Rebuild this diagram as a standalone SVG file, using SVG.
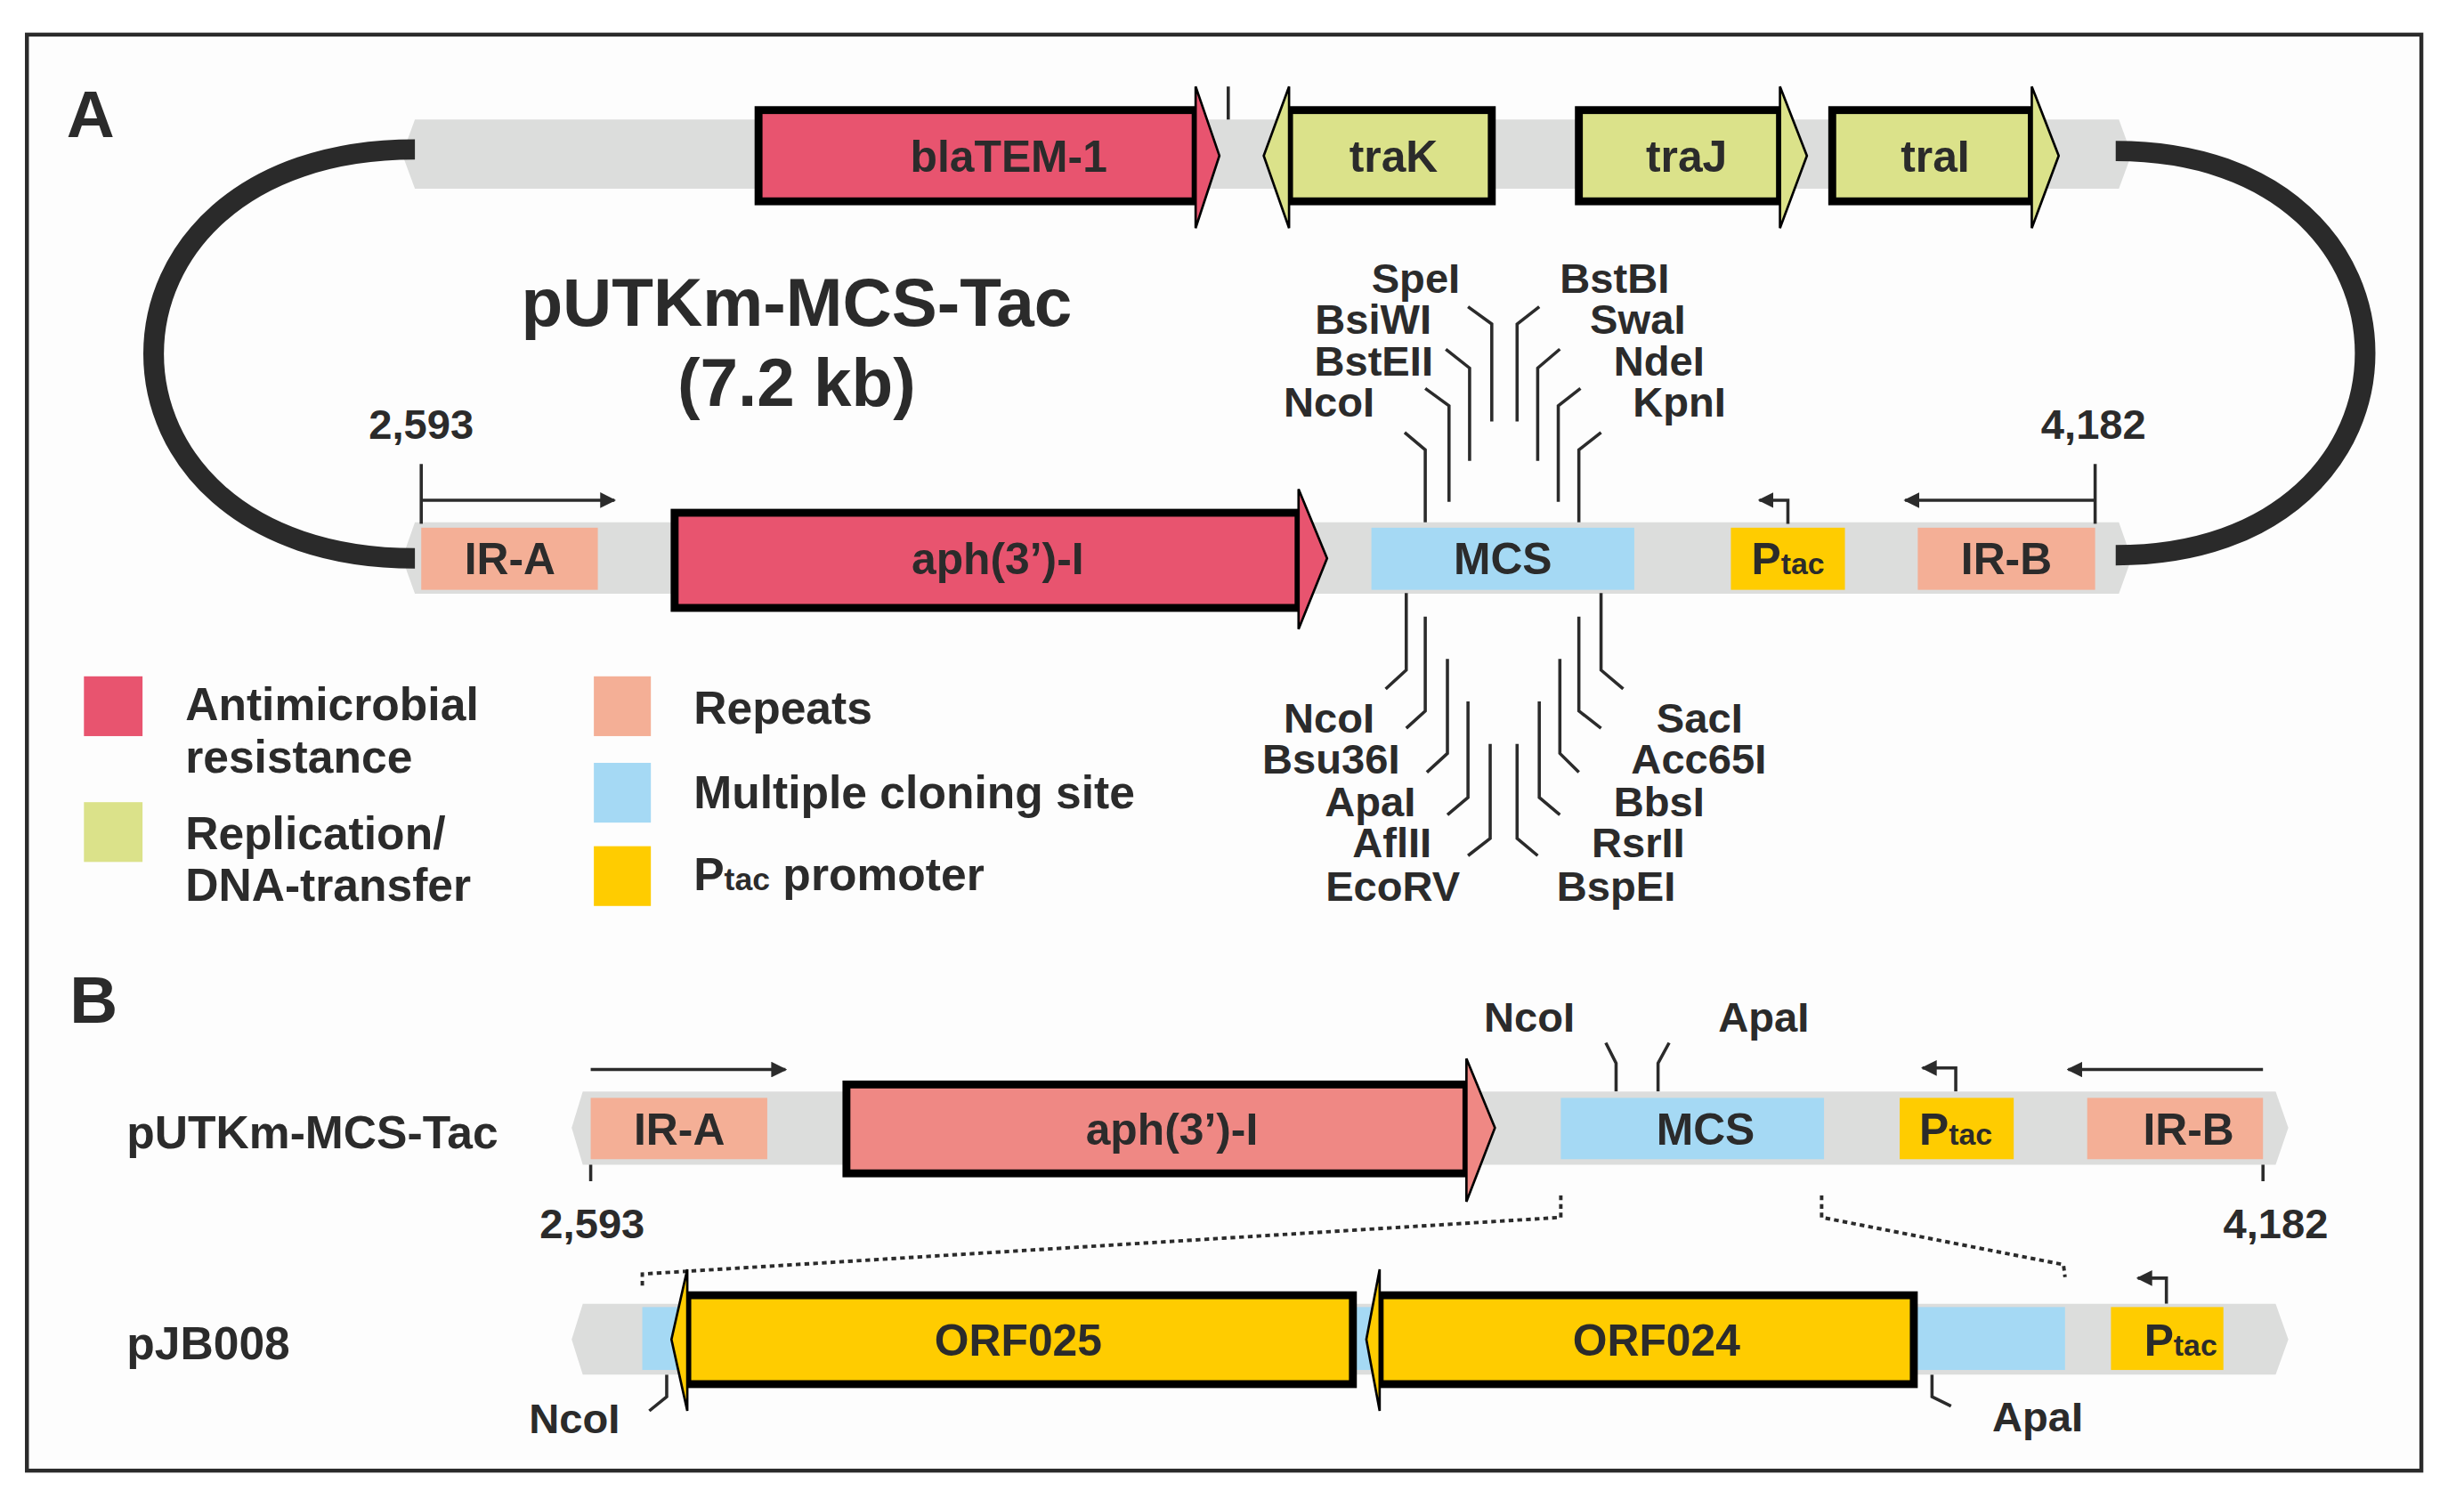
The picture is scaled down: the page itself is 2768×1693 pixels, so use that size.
<svg xmlns="http://www.w3.org/2000/svg" width="2768" height="1693" viewBox="0 0 2768 1693">
<style>
text{font-family:"Liberation Sans",Arial,sans-serif;font-weight:bold;fill:#2b2b2b}
.g{font-size:28px;text-anchor:middle}
.s{font-size:26.5px}
.e{text-anchor:end}
.lg{font-size:29px}
.bar{fill:#dcdddc}
.body{stroke:#000;stroke-width:5}
.head{stroke:#000;stroke-width:1.5;stroke-linejoin:miter}
.ln{fill:none;stroke:#2b2b2b;stroke-width:2}
.arc{fill:none;stroke:#2a2a2a;stroke-width:13}
.dot{fill:none;stroke:#2b2b2b;stroke-width:2.2;stroke-dasharray:3 2.5}
.red{fill:#e8546f}.grn{fill:#dbe28a}.rep{fill:#f4af96}.mcs{fill:#a5d9f4}.yel{fill:#ffcc00}.sal{fill:#ef8884}
</style>
<defs>
<marker id="ah" viewBox="0 0 10 10" refX="9" refY="5" markerWidth="5" markerHeight="5" orient="auto"><path d="M0,0 L10,5 L0,10 Z" fill="#2b2b2b"/></marker>
</defs>
<rect width="2768" height="1693" fill="#fff"/>
<g transform="scale(1.779,1.767)">
<rect x="17" y="22" width="1512" height="913" fill="#fdfdfd" stroke="#2b2b2b" stroke-width="2.5"/>
<text x="42" y="87" style="font-size:42px">A</text>
<text x="44" y="650" style="font-size:42px">B</text>

<g id="backbone-A">
<polygon class="bar" points="262,76 1338,76 1346,98 1338,120 262,120 254,98"/>
<polygon class="bar" points="262,332 1338,332 1346,355 1338,377.5 262,377.5 254,355"/>
<path class="arc" d="M262,95 C42,95 42,355 262,355"/>
<path class="arc" d="M1336,96 C1546,96 1546,353 1336,353"/>
<text x="503" y="207" style="font-size:43px;text-anchor:middle">pUTKm-MCS-Tac</text>
<text x="503" y="258" style="font-size:43px;text-anchor:middle">(7.2 kb)</text>
<line class="ln" x1="775.6" y1="55" x2="775.6" y2="76"/>
</g>

<g id="blaTEM-1">
<rect class="body red" x="479" y="70" width="276" height="58"/>
<polygon class="red head" points="755,70 755,55 770,99 755,145 755,128"/>
<text class="g" x="637" y="109">blaTEM-1</text>
</g>
<g id="traK">
<rect class="body grn" x="814" y="70" width="128" height="58"/>
<polygon class="grn head" points="814,70 814,55 798,99 814,145 814,128"/>
<text class="g" x="880" y="109">traK</text>
</g>
<g id="traJ">
<rect class="body grn" x="997" y="70" width="127" height="58"/>
<polygon class="grn head" points="1124,70 1124,55 1141,99 1124,145 1124,128"/>
<text class="g" x="1065" y="109">traJ</text>
</g>
<g id="traI">
<rect class="body grn" x="1157" y="70" width="126" height="58"/>
<polygon class="grn head" points="1283,70 1283,55 1300,99 1283,145 1283,128"/>
<text class="g" x="1222" y="109">traI</text>
</g>

<g id="IR-A">
<rect class="rep" x="266" y="335.5" width="111.5" height="39.5"/>
<text class="g" x="322" y="365">IR-A</text>
</g>
<g id="aph-A">
<rect class="body red" x="426" y="326" width="394" height="60.5"/>
<polygon class="red head" points="820,326 820,311 838,355 820,400 820,386.5"/>
<text class="g" x="630" y="365">aph(3’)-I</text>
</g>
<g id="MCS-A">
<rect class="mcs" x="866" y="335.5" width="166" height="39.5"/>
<text class="g" x="949" y="365">MCS</text>
</g>
<g id="Ptac-A">
<rect class="yel" x="1093" y="335.5" width="72" height="39.5"/>
<text class="g" x="1129" y="365">P<tspan style="font-size:19px">tac</tspan></text>
</g>
<g id="IR-B">
<rect class="rep" x="1211" y="335.5" width="112" height="39.5"/>
<text class="g" x="1267" y="365">IR-B</text>
</g>
<g id="coords-A">
<text class="s" x="266" y="279" style="text-anchor:middle">2,593</text>
<text class="s" x="1322" y="279" style="text-anchor:middle">4,182</text>
</g>

<g id="connectors">
<line class="ln" x1="266" y1="295" x2="266" y2="333"/>
<line class="ln" x1="266" y1="318" x2="388" y2="318" marker-end="url(#ah)"/>
<line class="ln" x1="1323" y1="295" x2="1323" y2="333"/>
<line class="ln" x1="1323" y1="318" x2="1203" y2="318" marker-end="url(#ah)"/>
<polyline class="ln" points="1129,333 1129,318 1111,318" marker-end="url(#ah)"/>
<polyline class="ln" points="900,332 900,286 887,275"/>
<polyline class="ln" points="915,319 915,258 900,247"/>
<polyline class="ln" points="928,293 928,234 913,222"/>
<polyline class="ln" points="942,268 942,206 927,195"/>
<polyline class="ln" points="958,268 958,206 972,195"/>
<polyline class="ln" points="971,293 971,234 985,222"/>
<polyline class="ln" points="984,319 984,258 998,247"/>
<polyline class="ln" points="997,332 997,286 1011,275"/>
<polyline class="ln" points="888,377 888,426 875,438"/>
<polyline class="ln" points="900,392 900,452 888,463"/>
<polyline class="ln" points="914,419 914,479 901,491"/>
<polyline class="ln" points="927,446 927,507 914,518"/>
<polyline class="ln" points="941,473 941,533 927,544"/>
<polyline class="ln" points="958,473 958,533 971,544"/>
<polyline class="ln" points="972,446 972,507 985,518"/>
<polyline class="ln" points="985,419 985,479 997,491"/>
<polyline class="ln" points="997,392 997,452 1011,463"/>
<polyline class="ln" points="1011,377 1011,426 1025,438"/>
<line class="ln" x1="373" y1="680" x2="496" y2="680" marker-end="url(#ah)"/>
<line class="ln" x1="1429" y1="680" x2="1306" y2="680" marker-end="url(#ah)"/>
<polyline class="ln" points="1235,694 1235,679 1214,679" marker-end="url(#ah)"/>
<line class="ln" x1="373" y1="740" x2="373" y2="751"/>
<line class="ln" x1="1429" y1="740" x2="1429" y2="751"/>
<polyline class="ln" points="1020.5,694 1020.5,676 1014,663"/>
<polyline class="ln" points="1047,694 1047,676 1054,663"/>
<polyline class="dot" points="985.6,760 985.6,774 405.6,810 405.6,818"/>
<polyline class="dot" points="1150.3,760 1150.3,774 1303,804 1304,812"/>
<polyline class="ln" points="1368,829 1368,812.6 1350,812.6" marker-end="url(#ah)"/>
<polyline class="ln" points="421,874 421,888 410,897"/>
<polyline class="ln" points="1220,874 1220,888 1232,894"/>
</g>

<g id="sites-A">
<text class="s e" x="922" y="186">SpeI</text>
<text class="s e" x="904" y="212">BsiWI</text>
<text class="s e" x="905" y="239">BstEII</text>
<text class="s e" x="868" y="265">NcoI</text>
<text class="s" x="985" y="186">BstBI</text>
<text class="s" x="1004" y="212">SwaI</text>
<text class="s" x="1019" y="239">NdeI</text>
<text class="s" x="1031" y="265">KpnI</text>
<text class="s e" x="868" y="466">NcoI</text>
<text class="s e" x="884" y="492">Bsu36I</text>
<text class="s e" x="894" y="519">ApaI</text>
<text class="s e" x="904" y="545">AflII</text>
<text class="s e" x="922" y="573">EcoRV</text>
<text class="s" x="1046" y="466">SacI</text>
<text class="s" x="1030" y="492">Acc65I</text>
<text class="s" x="1019" y="519">BbsI</text>
<text class="s" x="1005" y="545">RsrII</text>
<text class="s" x="983" y="573">BspEI</text>
</g>

<g id="legend">
<rect class="red" x="53" y="430" width="37" height="38"/>
<rect class="grn" x="53" y="510" width="37" height="38"/>
<rect class="rep" x="375" y="430" width="36" height="38"/>
<rect class="mcs" x="375" y="485" width="36" height="38"/>
<rect class="yel" x="375" y="538" width="36" height="38"/>
<text class="lg" x="117" y="458">Antimicrobial</text>
<text class="lg" x="117" y="491">resistance</text>
<text class="lg" x="117" y="540">Replication/</text>
<text class="lg" x="117" y="573">DNA-transfer</text>
<text class="lg" x="438" y="460">Repeats</text>
<text class="lg" x="438" y="514">Multiple cloning site</text>
<text class="lg" x="438" y="566">P<tspan style="font-size:20px">tac</tspan> promoter</text>
</g>

<g id="pUTKm-B">
<text class="lg" x="80" y="730">pUTKm-MCS-Tac</text>
<polygon class="bar" points="368,694 1437,694 1445,717 1437,740.5 368,740.5 361,717"/>
<rect class="rep" x="373" y="698" width="111.5" height="39"/>
<text class="g" x="429" y="728">IR-A</text>
<rect class="body sal" x="534.5" y="689.5" width="391.5" height="56.5"/>
<polygon class="sal head" points="926,687 926,673 944,717 926,764 926,748.6"/>
<text class="g" x="740" y="728">aph(3’)-I</text>
<rect class="mcs" x="985.6" y="698" width="166.2" height="39"/>
<text class="g" x="1077" y="728">MCS</text>
<rect class="yel" x="1199.6" y="698" width="72" height="39"/>
<text class="g" x="1235" y="728">P<tspan style="font-size:19px">tac</tspan></text>
<rect class="rep" x="1318" y="698" width="111" height="39"/>
<text class="g" x="1382" y="728">IR-B</text>
<text class="s" x="374" y="787" style="text-anchor:middle">2,593</text>
<text class="s" x="1437" y="787" style="text-anchor:middle">4,182</text>
<text class="s" x="937" y="656">NcoI</text>
<text class="s" x="1085" y="656">ApaI</text>
</g>

<g id="pJB008">
<text class="lg" x="80" y="864">pJB008</text>
<polygon class="bar" points="368,829 1437,829 1445,851.6 1437,874 368,874 361,851.6"/>
<rect class="mcs" x="405.6" y="831" width="898.4" height="40"/>
<rect class="body yel" x="434" y="823.5" width="420.3" height="56.5"/>
<polygon class="yel head" points="434,821 434,807 424,851.6 434,897 434,882"/>
<text class="g" x="643" y="862">ORF025</text>
<rect class="body yel" x="871.2" y="823.5" width="337.3" height="56.5"/>
<polygon class="yel head" points="871.2,821 871.2,807 862.8,851.6 871.2,897 871.2,882"/>
<text class="g" x="1046" y="862">ORF024</text>
<rect class="yel" x="1333" y="831" width="71" height="40"/>
<text class="g" x="1377" y="862">P<tspan style="font-size:19px">tac</tspan></text>
<text class="s" x="334" y="911">NcoI</text>
<text class="s" x="1258" y="910">ApaI</text>
</g>
</g>
</svg>
